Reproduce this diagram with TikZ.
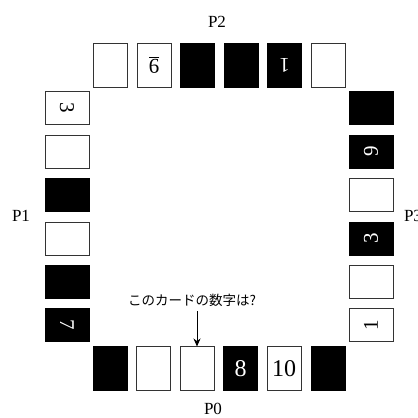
\documentclass[tikz,border=0pt]{standalone}
\usepackage{fontspec}
\setmainfont{Liberation Serif}
\newfontfamily\jpfont{Noto Sans CJK JP}
\usetikzlibrary{arrows.meta}
\begin{document}
\begin{tikzpicture}[x=1pt,y=-1pt,
  wcard/.style={draw=black!80,line width=0.8pt,fill=white,inner sep=0pt,outer sep=0pt},
  bcard/.style={draw=black,line width=0.8pt,fill=black,text=white,inner sep=0pt,outer sep=0pt},
  vert/.style={minimum width=34pt,minimum height=44pt},
  horz/.style={minimum width=44pt,minimum height=33pt},
  num/.style={font=\fontsize{21}{21}\selectfont},
  bignum/.style={font=\fontsize{24}{24}\selectfont},
  plabel/.style={font=\fontsize{17}{17}\selectfont,inner sep=0pt}]
\useasboundingbox (0,0) rectangle (418,418);
\fill[white] (0,0) rectangle (418,418);
% labels
\node[plabel] (p2) at (217,22) {P2};
\node[plabel] (p1) at (21,216) {P1};
\node[plabel] (p3) at (413,216) {P3};
\node[plabel] (p0) at (213,409) {P0};
% top row (P2)
\node[wcard,vert] (t1) at (110,65) {};
\node[wcard,vert,num,rotate=180] (t2) at (154,65) {\underline{9}};
\node[bcard,vert] (t3) at (197.5,65) {};
\node[bcard,vert] (t4) at (241,65) {};
\node[bcard,vert,num,rotate=180] (t5) at (284.5,65) {1};
\node[wcard,vert] (t6) at (328,65) {};
% bottom row (P0)
\node[bcard,vert] (b1) at (110,368.5) {};
\node[wcard,vert] (b2) at (153.5,368.5) {};
\node[wcard,vert] (b3) at (197,368.5) {};
\node[bcard,vert,bignum] (b4) at (240.5,368.5) {8};
\node[wcard,vert,bignum] (b5) at (284,368.5) {10};
\node[bcard,vert] (b6) at (328,368.5) {};
% left column (P1)
\node[wcard,horz,num] (l1) at (67,108) {\rotatebox{-90}{3}};
\node[wcard,horz] (l2) at (67,151.5) {};
\node[bcard,horz] (l3) at (67,195) {};
\node[wcard,horz] (l4) at (67,238.5) {};
\node[bcard,horz] (l5) at (67,281.5) {};
\node[bcard,horz,num] (l6) at (67,325) {\rotatebox{-90}{7}};
% right column (P3)
\node[bcard,horz] (r1) at (371,108) {};
\node[bcard,horz,num] (r2) at (371,151.5) {\rotatebox{90}{9}};
\node[wcard,horz] (r3) at (371,195) {};
\node[bcard,horz,num] (r4) at (371,238.5) {\rotatebox{90}{3}};
\node[wcard,horz] (r5) at (371,281.5) {};
\node[wcard,horz,num] (r6) at (371,325) {\rotatebox{90}{1}};
% question
\node[font=\jpfont\fontsize{13.5}{13.5}\selectfont,inner sep=1pt] (q) at (192,300) {このカードの数字は?};
\coordinate (qs) at (197,311);
\draw[line width=1pt,-{Stealth[length=8pt,width=7pt]}] (qs) -- (b3.north);
\end{tikzpicture}
\end{document}
